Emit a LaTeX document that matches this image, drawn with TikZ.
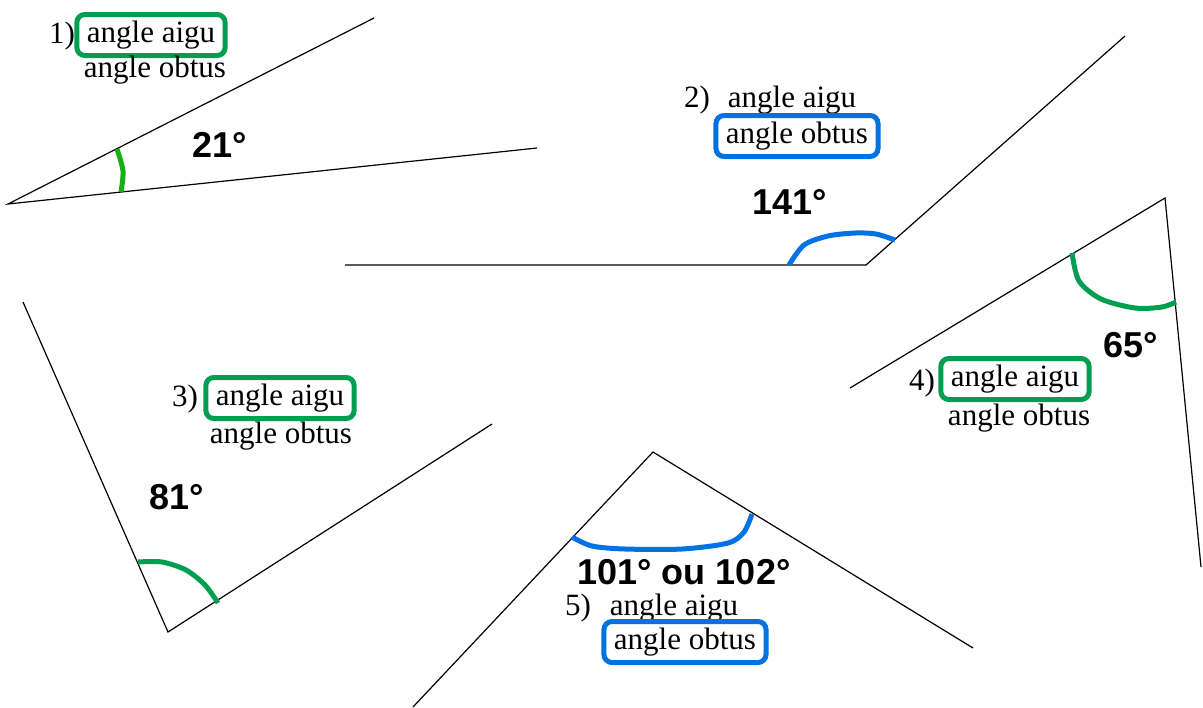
\documentclass[tikz,border=0pt]{standalone}
\usepackage{fontspec}
\setmainfont{Liberation Serif}
\newfontfamily\degfont{Liberation Sans}[Scale=1.0]
\usetikzlibrary{positioning}

\definecolor{vertbox}{RGB}{0,158,80}
\definecolor{vertarc}{RGB}{20,176,20}
\definecolor{bleu}{RGB}{0,114,226}

\tikzset{
    lbl/.style={font=\fontsize{15.5}{18}\selectfont, inner xsep=5pt, inner ysep=3pt,
        text height=11pt, text depth=3.5pt},
    choix/.style={lbl, draw=#1, line width=2.5pt, rounded corners=4pt},
    mesure/.style={font=\degfont\bfseries\fontsize{18}{20}\selectfont, inner sep=0pt},
    trait/.style={line width=0.6pt},
    arc/.style={#1, line width=2.5pt}
}

\begin{document}
\begin{tikzpicture}[x=0.5pt, y=-0.5pt]
    \useasboundingbox (0,0) rectangle (1203,707);

    % --- sommets et extremites ---
    \coordinate (S1) at (8,204);     \coordinate (A1) at (374,18);   \coordinate (B1) at (537,148);
    \coordinate (S2) at (866,265);   \coordinate (A2) at (345,265);  \coordinate (B2) at (1125,36);
    \coordinate (S3) at (168,632);   \coordinate (A3) at (23,302);   \coordinate (B3) at (492,424);
    \coordinate (S4) at (1165,198);  \coordinate (A4) at (850,388);  \coordinate (B4) at (1201,567);
    \coordinate (S5) at (653,452);   \coordinate (A5) at (413,707);  \coordinate (B5) at (973,648);

    % --- demi-droites ---
    \foreach \i in {1,...,5} {
        \draw[trait] (A\i) -- (S\i) -- (B\i);
    }

    % --- arcs des angles ---
    \draw[arc=vertarc] plot[smooth] coordinates {(117,149) (123,171) (121,192)};
    \draw[arc=bleu] plot[smooth] coordinates {(789,265) (804,245) (828,236) (855,233) (876,234) (895,240)};
    \draw[arc=vertbox] plot[smooth] coordinates {(138,562) (162,562) (186,570) (205,585) (218,603)};
    \draw[arc=vertbox] plot[smooth] coordinates {(1072,253) (1079,281) (1101,299) (1135,308) (1162,307) (1176,302)};
    \draw[arc=bleu] plot[smooth] coordinates {(572,537) (592,546) (625,549) (682,549) (728,543) (744,532) (752,514)};

    % --- mesures ---
    \node[mesure] (m1) at (220,145) {21°};
    \node[mesure] (m2) at (790,202) {141°};
    \node[mesure] (m3) at (177,497) {81°};
    \node[mesure] (m4) at (1131,345) {65°};
    \node[mesure] (m5) at (684,572) {101° ou 102°};

    % --- reponses ---
    % 1)
    \node[choix=vertbox] (aigu1) at (151,35) {angle aigu};
    \node[lbl] (obtus1) at (155,70) {angle obtus};
    \node[lbl, inner xsep=0pt] (num1) at (62,36) {1)};
    % 2)
    \node[lbl] (aigu2) at (792,100) {angle aigu};
    \node[choix=bleu] (obtus2) at (797,136) {angle obtus};
    \node[lbl, inner xsep=0pt] (num2) at (697,100) {2)};
    % 3)
    \node[choix=vertbox] (aigu3) at (280,398) {angle aigu};
    \node[lbl] (obtus3) at (281,436) {angle obtus};
    \node[lbl, inner xsep=0pt] (num3) at (185,399) {3)};
    % 4)
    \node[choix=vertbox] (aigu4) at (1015,379) {angle aigu};
    \node[lbl] (obtus4) at (1019,418) {angle obtus};
    \node[lbl, inner xsep=0pt] (num4) at (922,383) {4)};
    % 5)
    \node[lbl] (aigu5) at (674,608) {angle aigu};
    \node[choix=bleu] (obtus5) at (685,642) {angle obtus};
    \node[lbl, inner xsep=0pt] (num5) at (578,608) {5)};

\end{tikzpicture}
\end{document}
